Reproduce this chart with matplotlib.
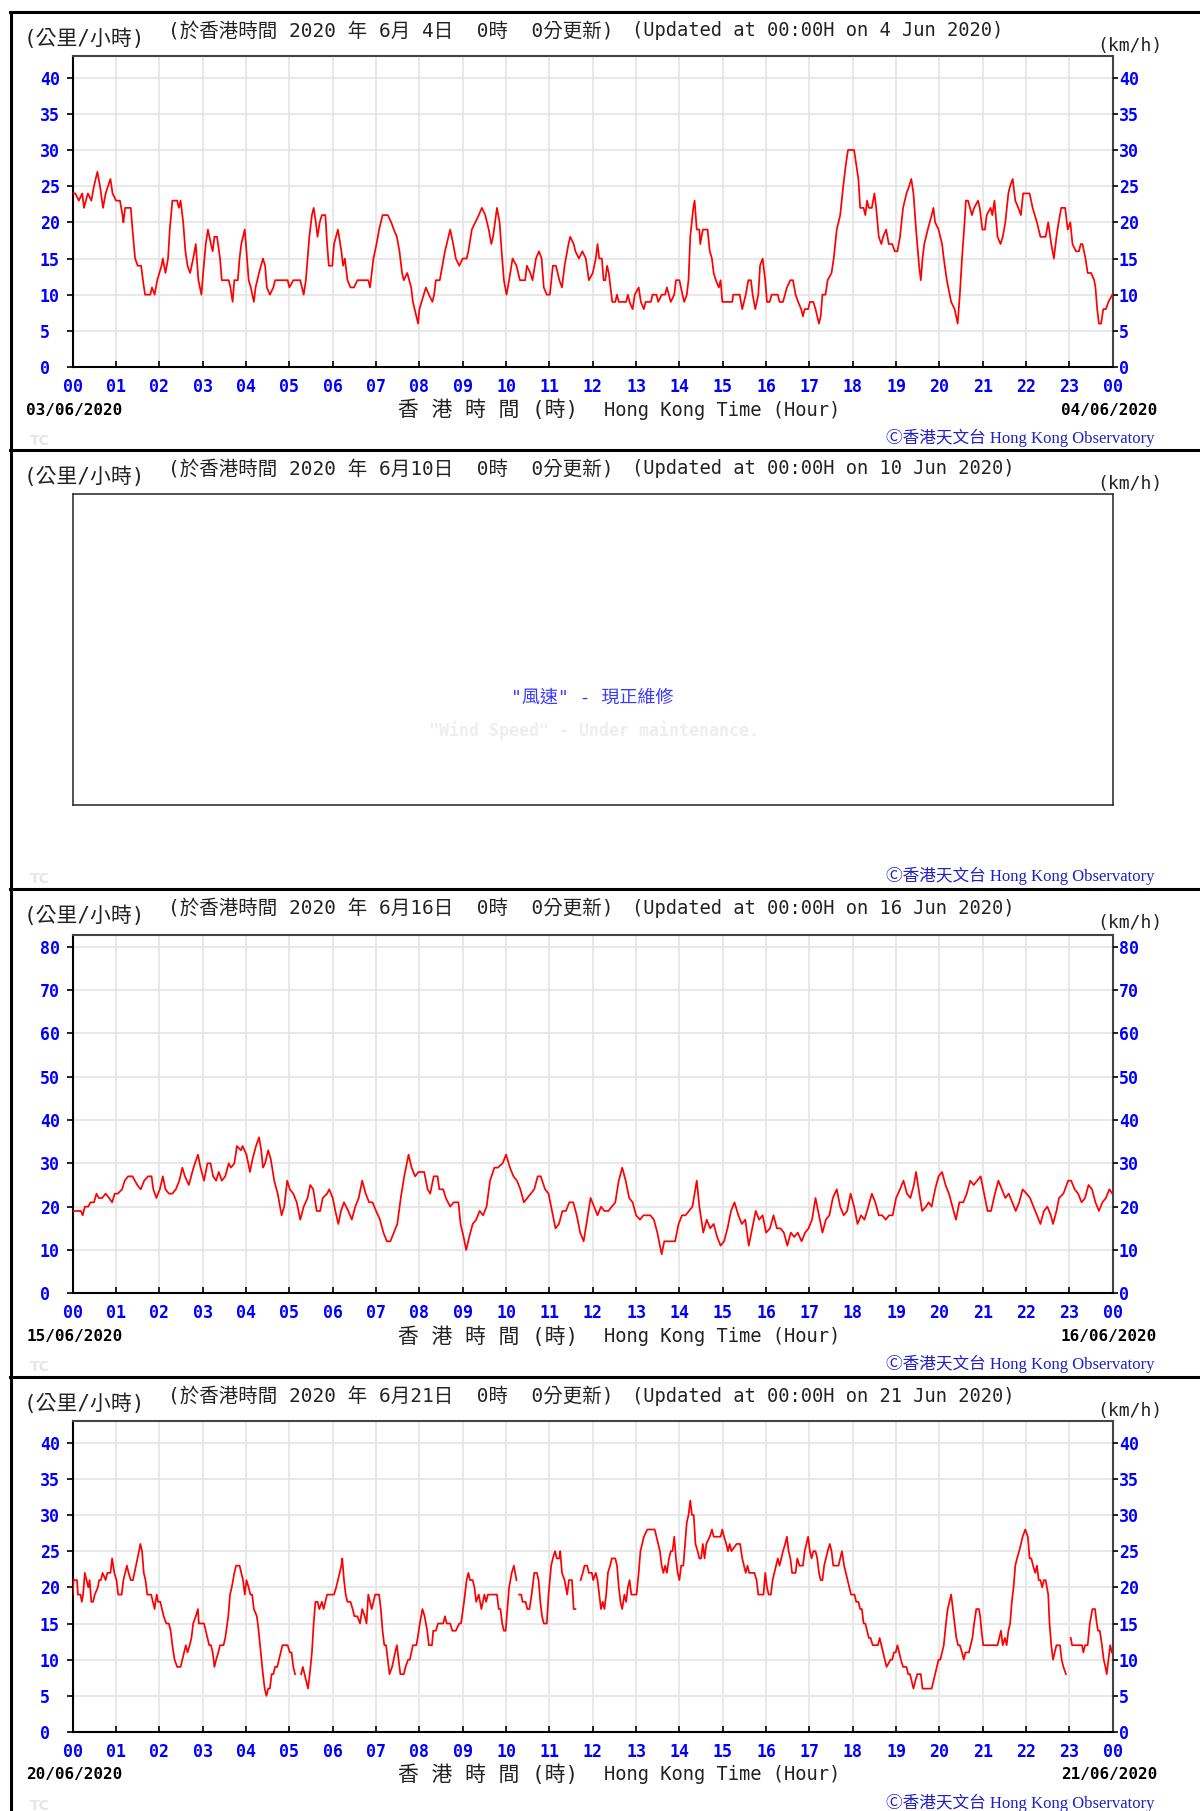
import numpy as np
import matplotlib
matplotlib.use("Agg")
import matplotlib.pyplot as plt
from matplotlib.lines import Line2D

# wind speed (km/h), hour of day vs speed
jun03_hours = [
    0.00, 0.06, 0.14, 0.22, 0.26, 0.35, 0.43, 0.49, 0.57, 0.63, 0.70, 0.76, 0.87, 0.92,
    1.00, 1.09, 1.15, 1.17, 1.21, 1.34, 1.38, 1.44, 1.50, 1.58, 1.62, 1.67, 1.79, 1.83, 1.89, 1.95,
    2.05, 2.08, 2.14, 2.20, 2.24, 2.30, 2.41, 2.45, 2.49, 2.55, 2.60, 2.65, 2.71, 2.78, 2.84, 2.90, 2.97,
    3.01, 3.07, 3.12, 3.19, 3.23, 3.27, 3.33, 3.40, 3.44, 3.60, 3.64, 3.69, 3.73, 3.81, 3.85, 3.89, 3.97,
    4.01, 4.06, 4.11, 4.18, 4.22, 4.30, 4.39, 4.44, 4.48, 4.55, 4.63, 4.67, 4.96,
    5.00, 5.09, 5.25, 5.29, 5.33, 5.38, 5.42, 5.46, 5.52, 5.56, 5.61, 5.65, 5.70, 5.75, 5.83, 5.87, 5.91, 5.99,
    6.03, 6.12, 6.20, 6.24, 6.28, 6.34, 6.41, 6.49, 6.57, 6.82, 6.86, 6.94,
    7.01, 7.07, 7.15, 7.27, 7.35, 7.41, 7.48, 7.54, 7.60, 7.64, 7.72, 7.81, 7.85, 7.93, 7.97,
    8.00, 8.10, 8.15, 8.22, 8.30, 8.34, 8.38, 8.47, 8.53, 8.59, 8.67, 8.71, 8.78, 8.84, 8.92,
    9.00, 9.09, 9.13, 9.21, 9.29, 9.37, 9.44, 9.52, 9.60, 9.66, 9.70, 9.79, 9.85, 9.91, 9.95,
    10.01, 10.07, 10.15, 10.24, 10.32, 10.44, 10.48, 10.56, 10.61, 10.69, 10.76, 10.82, 10.87, 10.94,
    11.01, 11.08, 11.15, 11.23, 11.29, 11.35, 11.44, 11.48, 11.56, 11.60, 11.68, 11.76, 11.84, 11.91,
    12.00, 12.07, 12.11, 12.15, 12.21, 12.25, 12.29, 12.33, 12.37, 12.41, 12.45, 12.52, 12.56, 12.60,
    12.77, 12.81, 12.85, 12.92, 12.97, 13.06, 13.11, 13.18, 13.22, 13.34, 13.38, 13.47, 13.51, 13.59,
    13.67, 13.71, 13.80, 13.88, 13.92, 14.00, 14.07, 14.11, 14.17, 14.21, 14.25, 14.32, 14.35, 14.40,
    14.46, 14.48, 14.54, 14.65, 14.70, 14.75, 14.79, 14.84, 14.91, 14.95, 14.99, 15.22, 15.24, 15.39,
    15.45, 15.53, 15.59, 15.65, 15.69, 15.75, 15.82, 15.86, 15.92, 15.98, 16.02, 16.08, 16.13, 16.27,
    16.31, 16.39, 16.48, 16.56, 16.62, 16.68, 16.74, 16.81, 16.85, 16.89, 16.97, 17.01, 17.09, 17.14,
    17.22, 17.26, 17.30, 17.37, 17.42, 17.51, 17.56, 17.63, 17.67, 17.71, 17.78, 17.84, 17.89, 18.03,
    18.08, 18.13, 18.17, 18.25, 18.29, 18.33, 18.37, 18.44, 18.50, 18.54, 18.60, 18.66, 18.70, 18.77,
    18.83, 18.91, 18.97, 19.03, 19.09, 19.16, 19.24, 19.30, 19.35, 19.40, 19.46, 19.53, 19.57, 19.61,
    19.65, 19.73, 19.82, 19.86, 19.90, 19.98, 20.06, 20.10, 20.17, 20.27, 20.35, 20.42, 20.47, 20.52,
    20.58, 20.61, 20.66, 20.75, 20.80, 20.89, 20.93, 20.99, 21.05, 21.09, 21.18, 21.22, 21.27, 21.34,
    21.41, 21.46, 21.52, 21.59, 21.63, 21.69, 21.75, 21.82, 21.88, 21.93, 22.08, 22.15, 22.25, 22.33,
    22.45, 22.51, 22.58, 22.64, 22.70, 22.75, 22.81, 22.90, 22.96, 23.02, 23.07, 23.15, 23.22, 23.26,
    23.30, 23.37, 23.42, 23.50, 23.57, 23.60, 23.64, 23.68, 23.73, 23.78, 23.84, 23.90, 23.99,
]
jun03_kmh = [
    24, 24, 23, 24, 22, 24, 23, 25, 27, 25, 22, 24, 26, 24,
    23, 23, 21, 20, 22, 22, 19, 15, 14, 14, 12, 10, 10, 11, 10, 12,
    14, 15, 13, 15, 19, 23, 23, 22, 23, 20, 16, 14, 13, 15, 17, 12, 10,
    13, 17, 19, 17, 16, 18, 18, 15, 12, 12, 11, 9, 12, 12, 15, 17, 19,
    16, 12, 11, 9, 11, 13, 15, 14, 11, 10, 11, 12, 12,
    11, 12, 12, 11, 10, 12, 15, 18, 21, 22, 20, 18, 20, 21, 21, 17, 14, 14,
    17, 19, 16, 14, 15, 12, 11, 11, 12, 12, 11, 15,
    17, 19, 21, 21, 20, 19, 18, 16, 13, 12, 13, 11, 9, 7, 6,
    8, 10, 11, 10, 9, 10, 12, 12, 14, 16, 18, 19, 17, 15, 14,
    15, 15, 16, 19, 20, 21, 22, 21, 19, 17, 18, 22, 20, 15, 12,
    10, 12, 15, 14, 12, 12, 14, 13, 12, 15, 16, 15, 11, 10,
    10, 14, 14, 12, 11, 14, 17, 18, 17, 16, 15, 16, 15, 12,
    13, 15, 17, 15, 15, 12, 12, 14, 13, 11, 9, 9, 10, 9,
    9, 10, 9, 8, 10, 11, 9, 8, 9, 9, 10, 10, 9, 10,
    10, 11, 9, 10, 12, 12, 10, 9, 10, 12, 18, 22, 23, 19,
    19, 17, 19, 19, 16, 15, 13, 12, 11, 12, 9, 9, 10, 10,
    8, 10, 12, 12, 10, 8, 10, 14, 15, 12, 9, 9, 10, 10,
    9, 9, 11, 12, 12, 10, 9, 8, 7, 8, 8, 9, 9, 8,
    6, 7, 10, 10, 12, 13, 15, 19, 20, 21, 25, 28, 30, 30,
    28, 26, 22, 22, 21, 23, 22, 22, 24, 22, 18, 17, 18, 19,
    17, 17, 16, 16, 18, 22, 24, 25, 26, 24, 19, 14, 12, 15,
    17, 19, 21, 22, 20, 19, 17, 15, 12, 9, 8, 6, 10, 15,
    20, 23, 23, 21, 22, 23, 22, 19, 19, 21, 22, 21, 23, 18,
    17, 18, 20, 24, 25, 26, 23, 22, 21, 24, 24, 22, 20, 18,
    18, 20, 17, 15, 18, 20, 22, 22, 19, 20, 17, 16, 16, 17,
    17, 15, 13, 13, 12, 11, 8, 6, 6, 8, 8, 9, 10,
]

jun15_hours = [
    0.00, 0.19, 0.23, 0.28, 0.36, 0.41, 0.49, 0.55, 0.60, 0.68, 0.76, 0.84, 0.91, 0.97,
    1.04, 1.14, 1.20, 1.28, 1.38, 1.49, 1.57, 1.65, 1.74, 1.82, 1.86, 1.93,
    2.01, 2.08, 2.14, 2.22, 2.30, 2.38, 2.46, 2.53, 2.59, 2.68, 2.76, 2.82, 2.89, 2.95,
    3.03, 3.11, 3.18, 3.24, 3.31, 3.37, 3.44, 3.52, 3.60, 3.65, 3.73, 3.79, 3.88, 3.92,
    4.01, 4.09, 4.15, 4.23, 4.30, 4.35, 4.39, 4.44, 4.51, 4.57, 4.65, 4.73, 4.82, 4.88, 4.95,
    5.01, 5.09, 5.17, 5.25, 5.33, 5.42, 5.48, 5.55, 5.63, 5.71, 5.77, 5.87, 5.92,
    6.00, 6.06, 6.13, 6.19, 6.26, 6.36, 6.44, 6.52, 6.60, 6.68, 6.76, 6.84, 6.92,
    7.00, 7.09, 7.17, 7.25, 7.33, 7.41, 7.49, 7.57, 7.65, 7.75, 7.82, 7.90, 7.98,
    8.11, 8.19, 8.25, 8.33, 8.42, 8.46, 8.55, 8.61, 8.71, 8.79, 8.90, 8.95,
    9.02, 9.08, 9.15, 9.23, 9.31, 9.39, 9.47, 9.55, 9.63, 9.73, 9.81, 9.92,
    10.00, 10.09, 10.17, 10.25, 10.33, 10.41, 10.49, 10.57, 10.65, 10.73, 10.80, 10.90, 10.98,
    11.06, 11.14, 11.22, 11.30, 11.38, 11.46, 11.55, 11.63, 11.71, 11.79, 11.87, 11.95,
    12.03, 12.11, 12.19, 12.27, 12.36, 12.44, 12.52, 12.60, 12.68, 12.76, 12.84, 12.92,
    13.00, 13.09, 13.17, 13.33, 13.41, 13.49, 13.59, 13.65, 13.90, 13.98,
    14.06, 14.14, 14.22, 14.30, 14.40, 14.46, 14.55, 14.63, 14.71, 14.79, 14.87, 14.95,
    15.03, 15.11, 15.19, 15.27, 15.36, 15.44, 15.52, 15.60, 15.68, 15.76, 15.84, 15.92,
    16.00, 16.09, 16.17, 16.25, 16.33, 16.41, 16.49, 16.57, 16.65, 16.73, 16.82, 16.90, 16.98,
    17.06, 17.14, 17.22, 17.30, 17.38, 17.46, 17.54, 17.63, 17.71, 17.79, 17.87, 17.95,
    18.03, 18.11, 18.19, 18.27, 18.36, 18.44, 18.52, 18.60, 18.68, 18.76, 18.84, 18.92,
    19.00, 19.09, 19.17, 19.25, 19.33, 19.41, 19.46, 19.52, 19.60, 19.69, 19.75, 19.82, 19.90, 19.98,
    20.06, 20.14, 20.22, 20.30, 20.38, 20.46, 20.55, 20.63, 20.71, 20.79, 20.87, 20.95,
    21.03, 21.11, 21.19, 21.28, 21.36, 21.44, 21.52, 21.60, 21.68, 21.76, 21.84, 21.92,
    22.01, 22.09, 22.17, 22.25, 22.33, 22.41, 22.49, 22.57, 22.62, 22.70, 22.76, 22.86, 22.97,
    23.04, 23.12, 23.20, 23.28, 23.36, 23.44, 23.52, 23.60, 23.68, 23.76, 23.84, 23.92, 23.99,
]
jun15_kmh = [
    19, 19, 18, 20, 20, 21, 21, 23, 22, 22, 23, 22, 21, 23,
    23, 24, 26, 27, 27, 25, 24, 26, 27, 27, 24, 22,
    24, 27, 24, 23, 23, 24, 26, 29, 27, 25, 28, 30, 32, 29,
    26, 30, 30, 27, 26, 28, 26, 27, 30, 29, 30, 34, 33, 34,
    32, 28, 31, 34, 36, 33, 29, 30, 33, 31, 26, 23, 18, 20, 26,
    24, 23, 21, 17, 20, 22, 25, 24, 19, 19, 22, 23, 24,
    22, 19, 16, 19, 21, 19, 17, 20, 22, 26, 23, 21, 21,
    19, 17, 14, 12, 12, 14, 16, 22, 27, 32, 29, 27, 28,
    28, 24, 23, 27, 27, 24, 24, 22, 20, 21, 21, 16,
    13, 10, 13, 16, 17, 19, 18, 20, 26, 29, 29, 30,
    32, 29, 27, 26, 24, 21, 22, 23, 24, 27, 27, 24, 23,
    19, 15, 16, 19, 19, 21, 21, 18, 14, 12, 17, 22,
    20, 18, 20, 19, 19, 20, 21, 26, 29, 26, 22, 21,
    18, 17, 18, 18, 17, 14, 9, 12, 12, 16,
    18, 18, 19, 20, 26, 20, 14, 17, 15, 16, 13, 11,
    12, 15, 19, 21, 18, 16, 17, 11, 15, 19, 17, 18,
    14, 15, 18, 15, 15, 14, 11, 14, 13, 14, 12, 14, 15,
    17, 22, 18, 14, 17, 18, 22, 24, 20, 18, 19, 23,
    20, 16, 18, 17, 20, 23, 21, 18, 18, 17, 18, 18,
    22, 24, 26, 23, 22, 25, 28, 24, 19, 20, 21, 20, 24, 27,
    28, 25, 23, 20, 17, 21, 21, 23, 26, 25, 26, 27,
    23, 19, 19, 23, 26, 24, 22, 23, 21, 19, 21, 24,
    23, 22, 20, 18, 16, 19, 20, 18, 16, 19, 22, 23, 26,
    26, 24, 23, 21, 22, 25, 24, 21, 19, 21, 22, 24, 23,
]

# nan = missing readings (gaps in the trace)
jun20_hours = [
    0.00, 0.02, 0.10, 0.12, 0.18, 0.21, 0.24, 0.28, 0.32, 0.36, 0.39, 0.43, 0.47, 0.51, 0.58,
    0.61, 0.65, 0.69, 0.76, 0.80, 0.87, 0.91, 0.96,
    1.01, 1.05, 1.13, 1.17, 1.21, 1.25, 1.29, 1.34, 1.39, 1.46, 1.53, 1.56, 1.60, 1.64, 1.68,
    1.72, 1.81, 1.85, 1.89, 1.91, 1.94, 1.97,
    2.02, 2.06, 2.10, 2.16, 2.22, 2.26, 2.30, 2.35, 2.41, 2.49, 2.53, 2.57, 2.61, 2.65, 2.70,
    2.74, 2.78, 2.84, 2.89, 2.91,
    3.03, 3.07, 3.11, 3.15, 3.19, 3.23, 3.27, 3.31, 3.36, 3.40, 3.48, 3.52, 3.59, 3.63, 3.67,
    3.73, 3.77, 3.85, 3.89, 3.93, 3.97,
    4.01, 4.06, 4.10, 4.14, 4.18, 4.25, 4.29, 4.34, 4.39, 4.43, 4.47, 4.51, 4.55, 4.59, 4.63,
    4.67, 4.72, 4.76, 4.80, 4.84, 4.96,
    5.01, 5.05, 5.09, 5.13, 5.18, 5.27, 5.31, 5.35, 5.39, 5.43, 5.47, 5.52, 5.56, 5.60, 5.65,
    5.69, 5.75, 5.79, 5.83, 5.87,
    6.03, 6.08, 6.12, 6.16, 6.20, 6.22, 6.26, 6.30, 6.34, 6.41, 6.46, 6.50, 6.57, 6.63, 6.68,
    6.74, 6.78, 6.82, 6.86, 6.90, 6.94, 6.98,
    7.07, 7.11, 7.15, 7.19, 7.23, 7.27, 7.31, 7.37, 7.44, 7.48, 7.52, 7.56, 7.64, 7.68, 7.74,
    7.78, 7.85, 7.93, 7.96,
    8.01, 8.07, 8.12, 8.18, 8.22, 8.29, 8.32, 8.38, 8.43, 8.55, 8.59, 8.63, 8.71, 8.76, 8.84,
    8.92, 8.96,
    9.03, 9.09, 9.13, 9.17, 9.23, 9.27, 9.31, 9.37, 9.43, 9.50, 9.54, 9.58, 9.79, 9.83, 9.87,
    9.91, 9.95, 9.99,
    10.03, 10.07, 10.13, 10.18, 10.24, 10.26, 10.30, 10.35, 10.38, 10.45, 10.49, 10.54, 10.59,
    10.65, 10.71, 10.75, 10.79, 10.83, 10.87, 10.94, 10.98,
    11.04, 11.08, 11.13, 11.17, 11.23, 11.25, 11.29, 11.35, 11.41, 11.45, 11.52, 11.56, 11.60,
    11.65, 11.72, 11.77, 11.81, 11.87, 11.91, 11.98,
    12.01, 12.07, 12.11, 12.15, 12.19, 12.23, 12.27, 12.31, 12.35, 12.40, 12.44, 12.52, 12.56,
    12.60, 12.64, 12.68, 12.73, 12.77, 12.81, 12.85, 12.89,
    13.01, 13.06, 13.10, 13.14, 13.18, 13.26, 13.43, 13.47, 13.51, 13.55, 13.59, 13.63, 13.67,
    13.71, 13.76, 13.80, 13.84, 13.88, 13.92, 13.96,
    14.00, 14.04, 14.09, 14.13, 14.17, 14.21, 14.25, 14.29, 14.33, 14.37, 14.42, 14.46, 14.50,
    14.54, 14.58, 14.62, 14.70, 14.75, 14.79, 14.95, 14.99,
    15.03, 15.08, 15.12, 15.16, 15.20, 15.32, 15.40, 15.45, 15.49, 15.53, 15.57, 15.61, 15.73,
    15.78, 15.82, 15.94, 15.98,
    16.02, 16.06, 16.11, 16.15, 16.19, 16.23, 16.27, 16.31, 16.35, 16.39, 16.44, 16.48, 16.52,
    16.56, 16.60, 16.68, 16.72, 16.77, 16.85, 16.89, 16.93, 16.97,
    17.01, 17.05, 17.09, 17.14, 17.18, 17.22, 17.26, 17.30, 17.34, 17.38, 17.42, 17.47, 17.51,
    17.55, 17.67, 17.71, 17.75, 17.80, 17.84, 17.88, 17.92, 17.96,
    18.04, 18.08, 18.13, 18.17, 18.21, 18.25, 18.29, 18.33, 18.37, 18.41, 18.46, 18.58, 18.62,
    18.66, 18.70, 18.74, 18.78, 18.87, 18.91, 18.95, 18.99,
    19.03, 19.07, 19.11, 19.16, 19.24, 19.28, 19.32, 19.36, 19.40, 19.44, 19.49, 19.57, 19.61,
    19.82, 19.86, 19.90, 19.94, 19.98,
    20.02, 20.06, 20.10, 20.15, 20.19, 20.23, 20.27, 20.31, 20.35, 20.39, 20.43, 20.47, 20.52,
    20.56, 20.60, 20.68, 20.72, 20.76, 20.80, 20.85, 20.91, 20.94, 20.97,
    21.01, 21.34, 21.38, 21.42, 21.46, 21.51, 21.55, 21.59, 21.63, 21.67, 21.71, 21.75, 21.79,
    21.84, 21.88, 21.92, 21.98,
    22.04, 22.08, 22.12, 22.16, 22.21, 22.25, 22.29, 22.33, 22.37, 22.41, 22.45, 22.51, 22.54,
    22.58, 22.62, 22.66, 22.70, 22.74, 22.78, 22.82, 22.86, 22.92, 22.97,
    23.03, 23.06, 23.20, 23.29, 23.32, 23.36, 23.42, 23.47, 23.53, 23.59, 23.63, 23.66, 23.70,
    23.75, 23.79, 23.83, 23.86, 23.90, 23.94, 23.98,
]
nan = np.nan
jun20_kmh = [
    19, 21, 21, 19, 19, 18, 19, 22, 21, 20, 21, 18, 18, 19, 20,
    21, 21, 22, 21, 22, 22, 24, 22,
    21, 19, 19, 21, 22, 23, 22, 21, 21, 23, 25, 26, 25, 22, 21,
    19, 19, 18, 17, 18, 19, 18,
    18, 17, 16, 15, 15, 14, 12, 10, 9, 9, 10, 11, 12, 11, 12,
    13, 15, 16, 17, 15,
    15, 14, 13, 12, 12, 11, 9, 10, 11, 12, 12, 13, 16, 19, 20,
    22, 23, 23, 22, 21, 19,
    21, 20, 19, 19, 17, 16, 14, 11, 8, 6, 5, 6, 6, 8, 8,
    9, 9, 10, 11, 12, 12,
    11, 11, 9, 8, nan, 8, 9, 8, 7, 6, 8, 11, 15, 18, 18,
    17, 18, 17, 18, 19,
    19, 20, 21, 22, 23, 24, 21, 19, 18, 18, 17, 16, 16, 15, 17,
    16, 15, 19, 18, 17, 18, 19,
    19, 17, 14, 12, 12, 10, 8, 9, 11, 12, 10, 8, 8, 9, 10,
    10, 12, 12, 13,
    15, 17, 16, 14, 12, 12, 14, 14, 15, 15, 16, 15, 15, 14, 14,
    15, 15,
    18, 21, 22, 21, 21, 20, 18, 19, 17, 19, 18, 19, 19, 17, 17,
    15, 14, 14,
    17, 20, 22, 23, 21, nan, 19, 19, 18, 18, 17, 17, 19,
    22, 22, 21, 18, 16, 15, 15, 19,
    23, 24, 25, 24, 24, 25, 22, 21, 19, 21, 21, 17, 17,
    nan, 21, 22, 23, 23, 22, 22,
    21, 22, 21, 19, 17, 18, 17, 19, 22, 23, 24, 24, 23,
    20, 18, 17, 19, 18, 20, 21, 19,
    19, 22, 25, 26, 27, 28, 28, 27, 26, 25, 23, 22, 23,
    22, 24, 25, 25, 27, 24, 22,
    21, 23, 23, 26, 29, 30, 32, 30, 30, 26, 25, 24, 24,
    26, 24, 26, 27, 28, 27, 27, 28,
    27, 26, 25, 26, 25, 26, 26, 24, 23, 22, 23, 22, 22,
    21, 19, 19, 22,
    20, 19, 19, 21, 22, 23, 24, 23, 24, 25, 26, 27, 25,
    24, 22, 22, 24, 23, 23, 25, 26, 27,
    25, 24, 25, 25, 24, 22, 21, 21, 23, 24, 25, 26, 25,
    23, 23, 24, 25, 23, 22, 21, 20, 19,
    19, 18, 18, 17, 17, 15, 15, 14, 13, 13, 12, 12, 13,
    12, 11, 10, 9, 10, 10, 11, 11,
    12, 11, 10, 9, 9, 8, 8, 7, 6, 7, 8, 8, 6,
    6, 7, 8, 9, 10,
    10, 11, 12, 15, 17, 18, 19, 17, 15, 13, 12, 12, 11,
    10, 11, 11, 12, 13, 15, 17, 17, 16, 14,
    12, 12, 13, 14, 12, 13, 12, 14, 15, 18, 20, 23, 24,
    25, 26, 27, 28,
    27, 24, 24, 23, 22, 23, 21, 21, 20, 21, 21, 19, 15,
    12, 10, 11, 12, 12, 12, 10, 9, 8, nan,
    13, 12, 12, 12, 11, 12, 12, 15, 17, 17, 15, 14, 14,
    12, 10, 9, 8, 10, 12, 11,
]

hour_labels = ["%02d" % (h % 24) for h in range(25)]

W, H = 1200, 1811
fig = plt.figure(figsize=(12, 18.11), dpi=100)
fig.patch.set_facecolor("white")

CJK = "Noto Sans CJK TC"
MONO = "DejaVu Sans Mono"
TXT = "#222222"
BLUE = "#0000ff"


def fx(px):
    return px / W


def fy(py):
    return 1 - py / H


def hline(y, x0=10, x1=1200, lw=2.2, color="black"):
    fig.add_artist(Line2D([fx(x0), fx(x1)], [fy(y), fy(y)], transform=fig.transFigure,
                          color=color, lw=lw))


def header(top, day, en_day):
    fig.text(fx(24), fy(top + 27), "(公里/小時)", fontsize=15, family=[MONO, CJK],
             color=TXT, ha="left", va="center")
    fig.text(fx(168), fy(top + 19), "(於香港時間 2020 年 6月%s日  0時  0分更新)" % day,
             fontsize=14, family=[MONO, CJK], color=TXT, ha="left", va="center")
    fig.text(fx(632), fy(top + 19), "(Updated at 00:00H on %s Jun 2020)" % en_day,
             fontsize=13.5, family=MONO, color=TXT, ha="left", va="center")
    fig.text(fx(1097), fy(top + 34), "(km/h)", fontsize=13, family=MONO,
             color=TXT, ha="left", va="center")


def footer(y0, d0, d1, show_axis_text=True):
    if show_axis_text:
        fig.text(fx(26), fy(y0 + 43), d0, fontsize=11.5, family=MONO, weight="bold",
                 ha="left", va="center", color="black")
        fig.text(fx(1157), fy(y0 + 43), d1, fontsize=11.5, family=MONO, weight="bold",
                 ha="right", va="center", color="black")
        fig.text(fx(398), fy(y0 + 43), "香 港 時 間 (時)", fontsize=15, family=[MONO, CJK],
                 color=TXT, ha="left", va="center")
        fig.text(fx(604), fy(y0 + 43), "Hong Kong Time (Hour)", fontsize=13.5, family=MONO,
                 color=TXT, ha="left", va="center")
    fig.text(fx(1155), fy(y0 + 71), "Ⓒ香港天文台 Hong Kong Observatory", fontsize=12,
             family=["Liberation Serif", CJK], color="#2020c8", ha="right", va="center")
    fig.text(fx(30), fy(y0 + 74), "TC", fontsize=10, family="DejaVu Sans", weight="bold",
             color="#e6e6e6", ha="left", va="center")


def chart(top, y0, ymax, yticks, hours, kmh):
    L, R = 72.7, 1112.8
    ax = fig.add_axes([fx(L), fy(y0), fx(R) - fx(L), fy(top) - fy(y0)])
    ax.plot(hours, kmh, color="#ff0000", lw=1.25, zorder=3)
    ax.set_xlim(0, 24)
    ax.set_ylim(0, ymax)
    ax.set_xticks(range(25))
    ax.set_xticklabels(hour_labels, family=MONO, weight="bold", color=BLUE, fontsize=12)
    ax.set_yticks(yticks)
    ax.set_yticklabels([str(v) for v in yticks], family=MONO, weight="bold",
                       color=BLUE, fontsize=12, ha="left")
    ax.tick_params(axis="x", direction="in", length=4.3, width=1.2, pad=8.0, color="black")
    ax.tick_params(axis="y", direction="out", length=4.1, width=1.2, pad=19.5, color="black")
    ax.grid(True, color="#e6e6e6", lw=1.3, zorder=0)
    ax.set_axisbelow(True)
    for s in ["left", "bottom"]:
        ax.spines[s].set_color("black")
        ax.spines[s].set_linewidth(1.5)
    for s in ["top", "right"]:
        ax.spines[s].set_color("#444444")
        ax.spines[s].set_linewidth(1.5)

    ax2 = ax.twinx()
    ax2.set_ylim(0, ymax)
    ax2.set_yticks(yticks)
    ax2.set_yticklabels([str(v) for v in yticks], family=MONO, weight="bold",
                        color=BLUE, fontsize=12)
    ax2.tick_params(axis="y", direction="out", length=3.4, width=1.2, pad=1.0, color="black")
    for s in ax2.spines.values():
        s.set_visible(False)
    return ax


# outer frame
fig.add_artist(Line2D([fx(10.7), fx(10.7)], [fy(12), fy(1811)], transform=fig.transFigure,
                      color="black", lw=2.2))

# panel 1: 3-4 June
t = 12
hline(t)
header(t, " 4", "4")
chart(t + 44, t + 355, 43, list(range(0, 41, 5)), jun03_hours, jun03_kmh)
footer(t + 355, "03/06/2020", "04/06/2020")

# panel 2: under maintenance
t = 450
hline(t)
header(t, "10", "10")
box = fig.add_axes([fx(72.7), fy(t + 355), fx(1112.8) - fx(72.7), fy(t + 44) - fy(t + 355)])
box.set_xticks([])
box.set_yticks([])
for s in box.spines.values():
    s.set_color("#333333")
    s.set_linewidth(1.2)
fig.text(fx(592), fy(698), '"風速" - 現正維修', fontsize=13, family=[MONO, CJK],
         color="#3a3aff", ha="center", va="center")
fig.text(fx(594), fy(731), '"Wind Speed" - Under maintenance.', fontsize=12, family=MONO,
         weight="bold", color="#eeeeee", ha="center", va="center")
footer(t + 355, "", "", show_axis_text=False)

# panel 3: 15-16 June
t = 889
hline(t)
header(t, "16", "16")
chart(935, 1293.3, 82.7, list(range(0, 81, 10)), jun15_hours, jun15_kmh)
footer(1293.3, "15/06/2020", "16/06/2020")

# panel 4: 20-21 June
t = 1377
hline(t)
header(t, "21", "21")
chart(t + 44, t + 355, 43, list(range(0, 41, 5)), jun20_hours, jun20_kmh)
footer(t + 355, "20/06/2020", "21/06/2020")

fig.savefig("out.png", dpi=100, facecolor="white")
